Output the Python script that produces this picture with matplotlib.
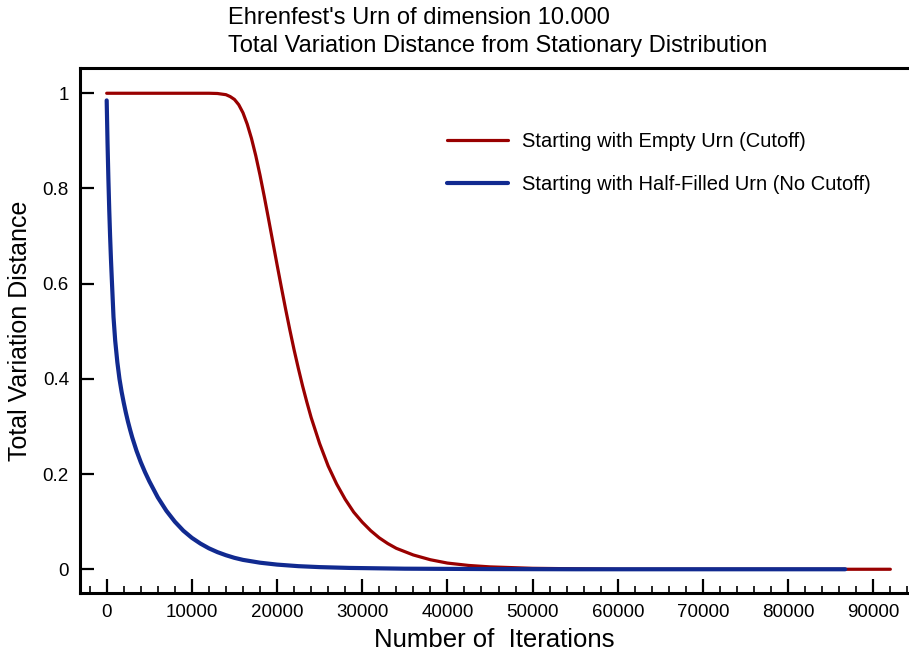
import matplotlib
matplotlib.use('Agg')
import matplotlib.pyplot as plt
from matplotlib.ticker import MultipleLocator, FuncFormatter

plt.rcParams['font.family'] = ['Liberation Sans', 'DejaVu Sans']

# Urna vuota (cutoff)
empty_t = [0, 12000, 13000, 14000, 14500, 15000, 15500, 16000, 16500, 17000,
           17500, 18000, 18500, 19000, 19500, 20000, 20500, 21000, 21500, 22000,
           22500, 23000, 23500, 24000, 25000, 26000, 27000, 28000, 29000, 30000,
           31000, 32000, 33000, 34000, 36000, 38000, 40000, 42500, 45000, 50000,
           55000, 60000, 92000]
empty_tv = [1.0, 1.0, 0.9995, 0.997, 0.993, 0.987, 0.976, 0.959, 0.935, 0.905,
            0.869, 0.828, 0.783, 0.736, 0.688, 0.640, 0.593, 0.547, 0.503, 0.461,
            0.422, 0.385, 0.351, 0.319, 0.264, 0.217, 0.179, 0.147, 0.120, 0.099,
            0.081, 0.066, 0.054, 0.044, 0.030, 0.020, 0.013, 0.008, 0.005, 0.002,
            0.001, 0.0, 0.0]

# Urna mezza piena (no cutoff)
half_t = [0, 100, 200, 300, 400, 500, 600, 800, 1000, 1250, 1500, 1750, 2000,
          2250, 2500, 2750, 3000, 3500, 4000, 4500, 5000, 6000, 7000, 8000, 9000,
          10000, 11000, 12000, 13000, 14000, 15000, 16000, 18000, 20000, 22500,
          25000, 28500, 35000, 45000, 55000, 86700]
half_tv = [0.985, 0.895, 0.82, 0.755, 0.70, 0.652, 0.61, 0.53, 0.48, 0.435, 0.40,
           0.373, 0.35, 0.329, 0.31, 0.293, 0.277, 0.249, 0.225, 0.204, 0.185,
           0.151, 0.123, 0.10, 0.081, 0.066, 0.054, 0.044, 0.036, 0.0295, 0.024,
           0.0197, 0.0138, 0.0098, 0.0065, 0.0045, 0.0028, 0.0012, 0.0004, 0.0, 0.0]

fig = plt.figure(figsize=(9.09, 6.51), dpi=100)
ax = fig.add_axes([0.088, 0.089, 0.912, 0.8065])

ax.plot(empty_t, empty_tv, color='#990000', lw=2.3, solid_capstyle='round',
        label='Starting with Empty Urn (Cutoff)')
ax.plot(half_t, half_tv, color='#112a90', lw=3.0, solid_capstyle='round',
        label='Starting with Half-Filled Urn (No Cutoff)')

ax.set_xlim(-3134, 94190)
ax.set_ylim(-0.05, 1.053)

ax.xaxis.set_major_locator(MultipleLocator(10000))
ax.xaxis.set_minor_locator(MultipleLocator(2000))
ax.yaxis.set_major_locator(MultipleLocator(0.2))
ax.yaxis.set_major_formatter(FuncFormatter(lambda v, p: '%g' % round(v, 2)))

ax.tick_params(axis='both', which='major', direction='in', length=10, width=1.6,
               labelsize=13.5, pad=8)
ax.tick_params(axis='x', which='minor', direction='in', length=5, width=1.2)
ax.tick_params(top=False, right=False)

for s in ['left', 'bottom', 'top']:
    ax.spines[s].set_linewidth(2.2)
ax.spines['right'].set_visible(False)

ax.set_xlabel('Number of  Iterations', fontsize=18.5, labelpad=5)
ax.set_ylabel('Total Variation Distance', fontsize=18, labelpad=8)

fig.text(0.251, 0.973, "Ehrenfest's Urn of dimension 10.000", fontsize=17,
         ha='left', va='center')
fig.text(0.251, 0.930, 'Total Variation Distance from Stationary Distribution',
         fontsize=17, ha='left', va='center')

ax.legend(loc='upper left', bbox_to_anchor=(0.421, 0.913), frameon=False,
          fontsize=14.5, handlelength=3.0, labelspacing=1.2, handletextpad=0.7)

fig.savefig('out.png', dpi=100)
